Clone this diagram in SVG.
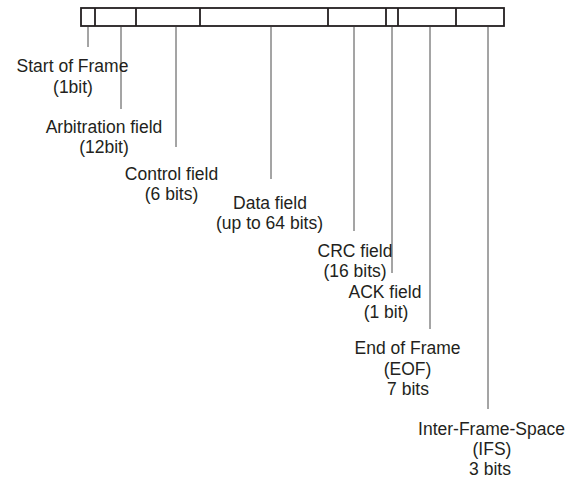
<svg xmlns="http://www.w3.org/2000/svg" width="574" height="480" viewBox="0 0 574 480">
<style>
.box{fill:none;stroke:#231f20;stroke-width:1.8}
.div{stroke:#231f20;stroke-width:1.8}
.lead{stroke:#4a4a4a;stroke-width:1}
text{font-family:"Liberation Sans",Arial,sans-serif;font-size:17.5px;fill:#231f20;text-anchor:middle}
</style>
<rect width="574" height="480" fill="#fff"/>
<g id="frame">
<rect class="box" x="81" y="8" width="423" height="18"/>
<line class="div" x1="95" y1="8" x2="95" y2="26"/>
<line class="div" x1="136" y1="8" x2="136" y2="26"/>
<line class="div" x1="200" y1="8" x2="200" y2="26"/>
<line class="div" x1="328" y1="8" x2="328" y2="26"/>
<line class="div" x1="386" y1="8" x2="386" y2="26"/>
<line class="div" x1="398" y1="8" x2="398" y2="26"/>
<line class="div" x1="456" y1="8" x2="456" y2="26"/>
</g>
<g id="connectors">
<line class="lead" x1="88" y1="27" x2="88" y2="47"/>
<line class="lead" x1="121" y1="27" x2="121" y2="109"/>
<line class="lead" x1="176" y1="27" x2="176" y2="147"/>
<line class="lead" x1="271" y1="27" x2="271" y2="179"/>
<line class="lead" x1="354" y1="27" x2="354" y2="231"/>
<line class="lead" x1="392" y1="27" x2="392" y2="273"/>
<line class="lead" x1="430" y1="27" x2="430" y2="329"/>
<line class="lead" x1="488" y1="27" x2="488" y2="409"/>
</g>
<g id="sof"><text x="72.5" y="72">Start of Frame</text><text x="73" y="93">(1bit)</text></g>
<g id="arb"><text x="104" y="133">Arbitration field</text><text x="104" y="153">(12bit)</text></g>
<g id="ctrl"><text x="171.5" y="180">Control field</text><text x="171.5" y="200">(6 bits)</text></g>
<g id="data"><text x="270" y="209">Data field</text><text x="269.5" y="229">(up to 64 bits)</text></g>
<g id="crc"><text x="355" y="257">CRC field</text><text x="355" y="277">(16 bits)</text></g>
<g id="ack"><text x="385" y="298">ACK field</text><text x="386" y="318">(1 bit)</text></g>
<g id="eof"><text x="407.5" y="354">End of Frame</text><text x="407.5" y="375">(EOF)</text><text x="408" y="395">7 bits</text></g>
<g id="ifs"><text x="491.5" y="435">Inter-Frame-Space</text><text x="492" y="455">(IFS)</text><text x="490" y="475">3 bits</text></g>
</svg>
